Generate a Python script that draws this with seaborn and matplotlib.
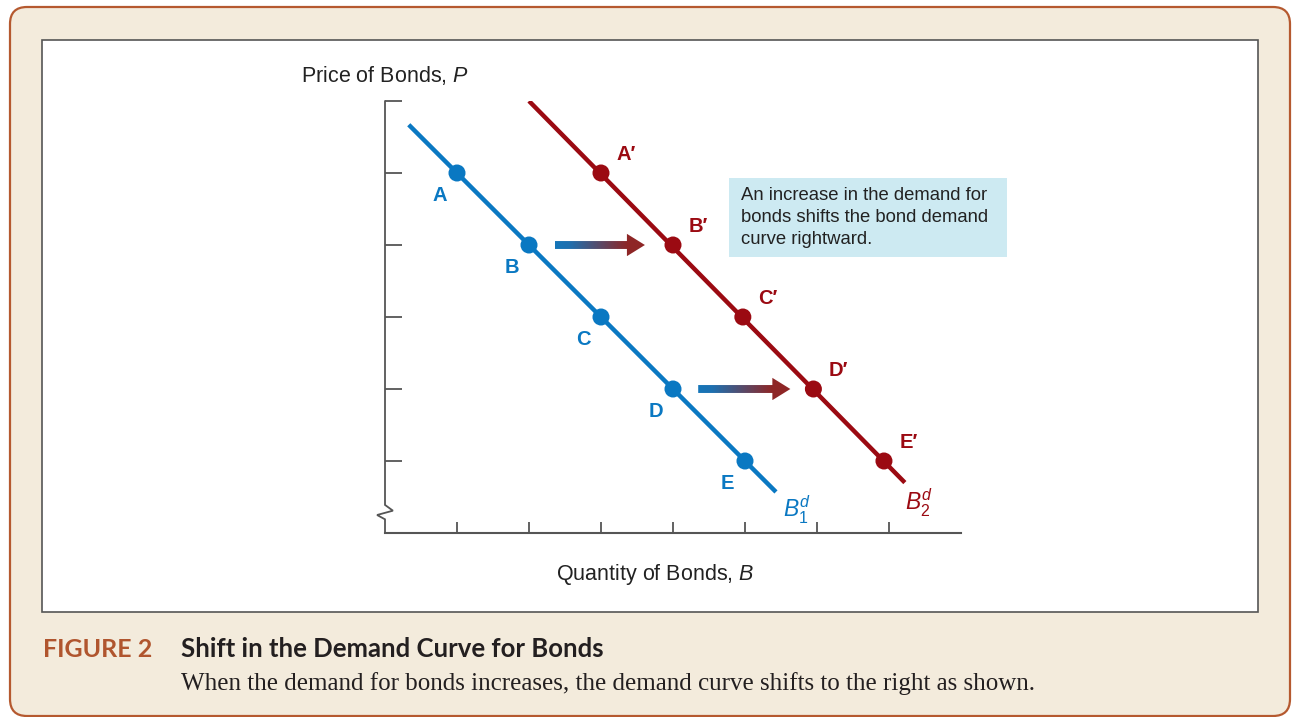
import numpy as np
import matplotlib
matplotlib.use("Agg")
import matplotlib.pyplot as plt
import seaborn as sns
from matplotlib.patches import FancyBboxPatch, Rectangle, Polygon
from matplotlib.colors import LinearSegmentedColormap

# ---------------- data ----------------
labels_1 = ["A", "B", "C", "D", "E"]
q_1 = [1.0, 2.0, 3.0, 4.0, 5.0]
p_1 = [5.0, 4.0, 3.0, 2.0, 1.0]
labels_2 = ["A\u2032", "B\u2032", "C\u2032", "D\u2032", "E\u2032"]
q_2 = [3.0, 4.0, 4.97, 5.95, 6.93]
p_2 = [5.0, 4.0, 3.0, 2.0, 1.0]
curve1_q = [0.33, 5.43]
curve1_p = [5.67, 0.57]
curve2_q = [2.0, 7.22]
curve2_p = [6.0, 0.70]
shift_start = [2.36, 4.35]
shift_end = [3.61, 5.63]
shift_p = [4.0, 2.0]
x_ticks = [1, 2, 3, 4, 5, 6, 7]
y_ticks = [1, 2, 3, 4, 5, 6]

BLUE = "#0A78C2"
RED = "#9B0A12"
ARROW_RED = "#8E2626"
GRAY = "#555555"

sns.set_theme(style="white")
plt.rcParams["font.family"] = ["Liberation Sans", "DejaVu Sans"]
plt.rcParams["mathtext.fontset"] = "custom"
plt.rcParams["mathtext.rm"] = "Liberation Sans"
plt.rcParams["mathtext.it"] = "Liberation Sans:italic"

W, H = 1299, 717
fig = plt.figure(figsize=(W / 100, H / 100), dpi=100)
fig.patch.set_facecolor("white")

# background frame
outer = FancyBboxPatch((0.10, 0.01), 12.80, 7.09,
                       boxstyle="round,pad=0,rounding_size=0.17",
                       transform=fig.dpi_scale_trans, facecolor="#F3EBDC",
                       edgecolor="#B5592F", linewidth=1.6, zorder=-10)
fig.add_artist(outer)
panel = Rectangle((0.42, 1.05), 12.16, 5.72, transform=fig.dpi_scale_trans,
                  facecolor="white", edgecolor=GRAY, linewidth=1.2, zorder=-9)
fig.add_artist(panel)

# main axes: 72 px per unit
ax = fig.add_axes([385 / W, 184 / H, 576 / W, 432 / H])
ax.patch.set_alpha(0)

sns.lineplot(x=curve1_q, y=curve1_p, ax=ax, color=BLUE, linewidth=3.2,
             sort=False, solid_capstyle="butt")
sns.lineplot(x=curve2_q, y=curve2_p, ax=ax, color=RED, linewidth=3.2,
             sort=False, solid_capstyle="butt")
sns.scatterplot(x=q_1, y=p_1, ax=ax, color=BLUE, s=150, edgecolor="none",
                zorder=4)
sns.scatterplot(x=q_2, y=p_2, ax=ax, color=RED, s=150, edgecolor="none",
                zorder=4)

for lab, x, y in zip(labels_1, q_1, p_1):
    ax.annotate(lab, (x, y), xytext=(-12.5, -16), textcoords="offset points",
                ha="center", va="center", fontsize=14.5, fontweight="bold",
                color=BLUE)
for lab, x, y in zip(labels_2, q_2, p_2):
    ax.annotate(lab, (x, y), xytext=(18, 13), textcoords="offset points",
                ha="center", va="center", fontsize=14.5, fontweight="bold",
                color=RED)

ax.text(5.72, 0.32, r"$B^{d}_{1}$", color=BLUE, fontsize=16.5, ha="center",
        va="center")
ax.text(7.42, 0.42, r"$B^{d}_{2}$", color=RED, fontsize=16.5, ha="center",
        va="center")

# gradient shift arrows
cmap = LinearSegmentedColormap.from_list(
    "shift", [(0, "#1576B9"), (0.15, "#1E70B0"), (0.8, ARROW_RED),
              (1, ARROW_RED)])
grad = np.linspace(0, 1, 256).reshape(1, -1)
for x0, x1, y in zip(shift_start, shift_end, shift_p):
    hl, sw, hw = 0.25, 0.055, 0.155
    verts = [(x0, y - sw), (x1 - hl, y - sw), (x1 - hl, y - hw), (x1, y),
             (x1 - hl, y + hw), (x1 - hl, y + sw), (x0, y + sw)]
    poly = Polygon(verts, closed=True, facecolor="none", edgecolor="none")
    ax.add_patch(poly)
    im = ax.imshow(grad, extent=[x0, x1, y - hw, y + hw], aspect="auto",
                   cmap=cmap, interpolation="bilinear", zorder=3)
    im.set_clip_path(poly)

# annotation box
ax.add_patch(Rectangle((4.78, 3.83), 3.86, 1.10, facecolor="#CDEAF2",
                       edgecolor="none", clip_on=False, zorder=2))
ax.text(4.94, 4.80, "An increase in the demand for\nbonds shifts the bond demand\ncurve rightward.",
        ha="left", va="top", fontsize=13.3, color="#222222", linespacing=1.38,
        zorder=3)

# axes styling
ax.set_xlim(0, 8)
ax.set_ylim(0, 6)
ax.set_xticks(x_ticks)
ax.set_yticks(y_ticks)
for s in ["top", "right", "left"]:
    ax.spines[s].set_visible(False)
ax.spines["bottom"].set_color(GRAY)
ax.spines["bottom"].set_linewidth(1.5)
ax.tick_params(axis="x", direction="in", length=8, width=1.3, colors=GRAY,
               labelbottom=False, bottom=True)
ax.tick_params(axis="y", direction="in", length=12.5, width=1.3, colors=GRAY,
               labelleft=False, left=True)
ax.plot([0, 0, 0.11, -0.11, 0, 0], [6, 0.39, 0.31, 0.25, 0.19, 0],
        color=GRAY, linewidth=1.3, clip_on=False, solid_joinstyle="miter")
ax.set_xlabel("")
ax.set_ylabel("")

ax.text(-1.17, 6.35, r"Price of Bonds, $P$", ha="left", va="center",
        fontsize=15.5, color="#222222")
ax.text(3.75, -0.58, r"Quantity of Bonds, $B$", ha="center", va="center",
        fontsize=15.5, color="#222222")

# caption
fig.text(0.43, 0.60, "FIGURE 2", transform=fig.dpi_scale_trans,
         fontfamily="Lato", fontweight="bold", fontsize=18, color="#B0552E",
         ha="left", va="baseline")
fig.text(1.81, 0.60, "Shift in the Demand Curve for Bonds",
         transform=fig.dpi_scale_trans, fontfamily="Lato", fontweight="bold",
         fontsize=18.5, color="#231F20", ha="left", va="baseline")
fig.text(1.81, 0.27,
         "When the demand for bonds increases, the demand curve shifts to the right as shown.",
         transform=fig.dpi_scale_trans, fontfamily="Liberation Serif",
         fontsize=18, color="#231F20", ha="left", va="baseline")

fig.savefig("out.png", dpi=100)
